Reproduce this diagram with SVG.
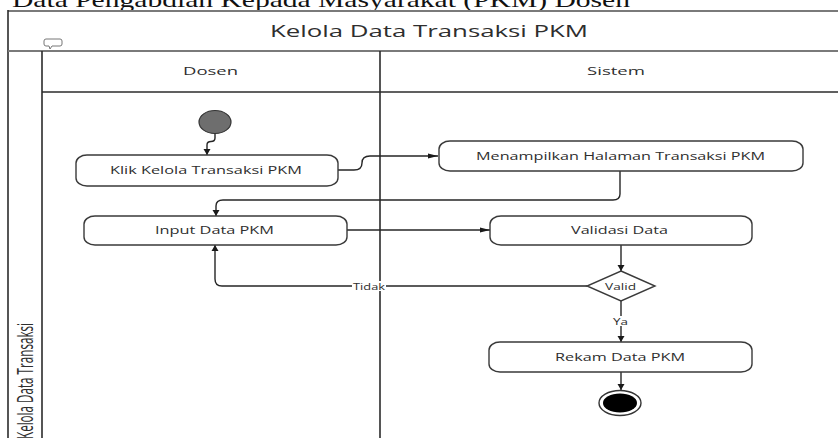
<svg xmlns="http://www.w3.org/2000/svg" width="838" height="438" viewBox="0 0 838 438">
  <style>
    .frame { fill: none; stroke: #2b2b2b; stroke-width: 1.6; }
    .frame-soft { fill: none; stroke: #7a7a7a; stroke-width: 2; }
    .act { fill: #ffffff; stroke: #3a3a3a; stroke-width: 1.4; }
    .lbl { font-family: "Open Sans", "DejaVu Sans", sans-serif; fill: #2e2e2e; }
    .edge { fill: none; stroke: #262626; stroke-width: 1.4; }
    .tag-bg { fill: #ffffff; }
  </style>
  <defs>
    <marker id="arrowH" markerUnits="userSpaceOnUse" markerWidth="12" markerHeight="8" refX="10" refY="4" orient="auto">
      <path d="M0,1.5 L10,4 L0,6.5 Z" fill="#1a1a1a"/>
    </marker>
    <marker id="arrowV" markerUnits="userSpaceOnUse" markerWidth="8" markerHeight="10" refX="6" refY="4" orient="auto">
      <path d="M0,0.5 L6,4 L0,7.5 Z" fill="#1a1a1a"/>
    </marker>
  </defs>

  <rect width="838" height="438" fill="#ffffff"/>

  <!-- caption line above the frame -->
  <text x="12" y="7" font-family="Liberation Serif, serif" font-size="21" textLength="618" lengthAdjust="spacingAndGlyphs" fill="#111">Data Pengabdian Kepada Masyarakat (PKM) Dosen</text>

  <!-- swimlane frame -->
  <g id="frame">
    <line class="frame-soft" x1="8" y1="11" x2="838" y2="11"/>
    <line class="frame" x1="8" y1="10" x2="8" y2="438"/>
    <line class="frame-soft" x1="8" y1="51" x2="838" y2="51"/>
    <line class="frame" x1="42" y1="51" x2="42" y2="438"/>
    <line class="frame" x1="42" y1="92" x2="838" y2="92"/>
    <line class="frame" x1="380" y1="51" x2="380" y2="438"/>
    <text class="lbl" x="270" y="37" font-size="16" textLength="318" lengthAdjust="spacingAndGlyphs">Kelola Data Transaksi PKM</text>
    <!-- note icon -->
    <path d="M46,39 L60,39 Q62,39 62,41 L62,44 Q62,46 60,46 L52,46 L50,49 L49,46 L46,46 Q44,46 44,44 L44,41 Q44,39 46,39 Z" fill="#ffffff" stroke="#777" stroke-width="1"/>
    <text class="lbl" x="183" y="75" font-size="11.5" textLength="55" lengthAdjust="spacingAndGlyphs">Dosen</text>
    <text class="lbl" x="587" y="75" font-size="11.5" textLength="58" lengthAdjust="spacingAndGlyphs">Sistem</text>
    <text class="lbl" transform="translate(33,439) rotate(-90)" x="0" y="0" font-size="21" textLength="116" lengthAdjust="spacingAndGlyphs">Kelola Data Transaksi</text>
  </g>

  <!-- connectors -->
  <g id="connectors">
    <path class="edge" d="M215,133 L215,138 Q215,141.5 211,141.5 Q207,141.5 207,145 L207,155" marker-end="url(#arrowV)"/>
    <path class="edge" d="M338,170 L354,170 Q362,170 362,163 Q362,156 370,156 L438,156" marker-end="url(#arrowH)"/>
    <path class="edge" d="M620,171 L620,194 Q620,200 613,200 L223,200 Q216,200 216,206 L216,216" marker-end="url(#arrowV)"/>
    <path class="edge" d="M347,230 L490,230" marker-end="url(#arrowH)"/>
    <path class="edge" d="M621,245 L621,271" marker-end="url(#arrowV)"/>
    <path class="edge" d="M587,286 L222,286 Q215,286 215,279 L215,245" marker-end="url(#arrowV)"/>
    <path class="edge" d="M621,301 L621,342" marker-end="url(#arrowV)"/>
    <path class="edge" d="M621,372 L621,390" marker-end="url(#arrowV)"/>
    <rect class="tag-bg" x="352" y="281" width="34" height="10"/>
    <text class="lbl" x="353" y="289.5" font-size="9" textLength="32" lengthAdjust="spacingAndGlyphs">Tidak</text>
    <rect class="tag-bg" x="611" y="316" width="20" height="10"/>
    <text class="lbl" x="613" y="324.5" font-size="9" textLength="15" lengthAdjust="spacingAndGlyphs">Ya</text>
  </g>

  <g id="start">
    <ellipse cx="215" cy="122" rx="16" ry="11.5" fill="#6e6e6e" stroke="#333" stroke-width="1.2"/>
  </g>

  <g id="klik">
    <rect class="act" x="76" y="155" width="262" height="31" rx="11" ry="8"/>
    <text class="lbl" x="110" y="173.5" font-size="10.5" textLength="192" lengthAdjust="spacingAndGlyphs">Klik Kelola Transaksi PKM</text>
  </g>

  <g id="menampilkan">
    <rect class="act" x="439" y="141" width="364" height="30" rx="11" ry="8"/>
    <text class="lbl" x="476" y="159.5" font-size="10.5" textLength="289" lengthAdjust="spacingAndGlyphs">Menampilkan Halaman Transaksi PKM</text>
  </g>

  <g id="input">
    <rect class="act" x="84" y="216" width="263" height="29" rx="11" ry="8"/>
    <text class="lbl" x="155" y="233.5" font-size="10.5" textLength="119" lengthAdjust="spacingAndGlyphs">Input Data PKM</text>
  </g>

  <g id="validasi">
    <rect class="act" x="490" y="216" width="262" height="29" rx="11" ry="8"/>
    <text class="lbl" x="571" y="234" font-size="10.5" textLength="97" lengthAdjust="spacingAndGlyphs">Validasi Data</text>
  </g>

  <g id="valid">
    <path class="act" d="M621,271 L655,286 L621,301 L587,286 Z"/>
    <text class="lbl" x="605" y="290" font-size="9" textLength="31" lengthAdjust="spacingAndGlyphs">Valid</text>
  </g>

  <g id="rekam">
    <rect class="act" x="489" y="342" width="263" height="30" rx="11" ry="8"/>
    <text class="lbl" x="555" y="361" font-size="10.5" textLength="130" lengthAdjust="spacingAndGlyphs">Rekam Data PKM</text>
  </g>

  <g id="end">
    <ellipse cx="620" cy="403" rx="21" ry="12.5" fill="#ffffff" stroke="#333" stroke-width="1.4"/>
    <ellipse cx="620" cy="403" rx="17" ry="9.5" fill="#000000"/>
  </g>
</svg>
